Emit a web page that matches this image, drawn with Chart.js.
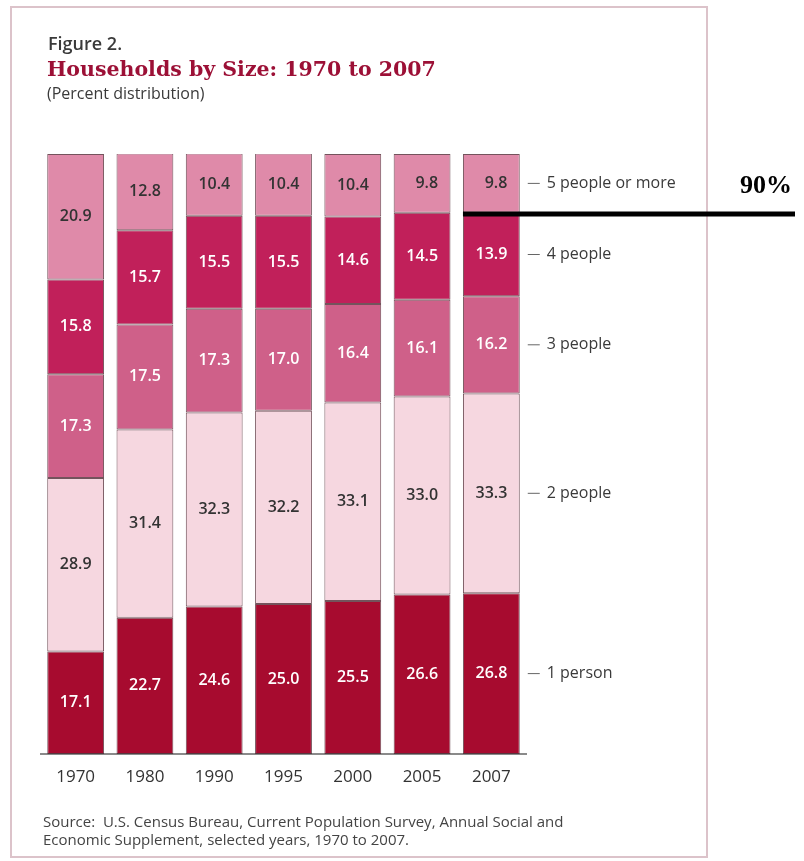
<!DOCTYPE html>
<html>
<head>
<meta charset="utf-8">
<script src="https://cdn.jsdelivr.net/npm/chart.js@4.4.1/dist/chart.umd.min.js"></script>
<style>
  body { margin: 0; background: #fff; }
  #wrap { position: relative; width: 804px; height: 861px; overflow: hidden; }
  #frame { position: absolute; left: 10px; top: 6px; width: 698px; height: 852px; border: 2px solid #dcc3ca; box-sizing: border-box; }
  canvas { position: absolute; left: 0; top: 0; }
  .txt { position: absolute; font-family: "Open Sans", sans-serif; color: #333; white-space: nowrap; line-height: 1; }
  #fig { left: 48px; top: 34px; font-size: 18px; font-weight: 600; color: #3a3a3a; }
  #title { left: 47px; top: 59px; font-family: "DejaVu Serif", serif; font-weight: bold; font-size: 20.5px; color: #9c1036; }
  #sub { left: 47px; top: 85px; font-size: 16px; color: #3a3a3a; }
  #source { left: 43px; top: 812px; font-size: 15px; line-height: 18px; color: #444; }
  #mark { left: 740px; top: 170px; font-family: "Liberation Serif", serif; font-weight: bold; font-size: 26px; color: #000; line-height: normal; }
</style>
</head>
<body>
<div id="wrap">
  <div id="frame"></div>
  <canvas id="chart" width="804" height="861"></canvas>
  <div class="txt" id="fig">Figure 2.</div>
  <div class="txt" id="title">Households by Size: 1970 to 2007</div>
  <div class="txt" id="sub">(Percent distribution)</div>
  <div class="txt" id="source">Source:&nbsp; U.S. Census Bureau, Current Population Survey, Annual Social and<br>Economic Supplement, selected years, 1970 to 2007.</div>
  <div class="txt" id="mark">90%</div>
</div>
<script>
const years = ['1970', '1980', '1990', '1995', '2000', '2005', '2007'];
const onePerson = [17.1, 22.7, 24.6, 25.0, 25.5, 26.6, 26.8];
const twoPeople = [28.9, 31.4, 32.3, 32.2, 33.1, 33.0, 33.3];
const threePeople = [17.3, 17.5, 17.3, 17.0, 16.4, 16.1, 16.2];
const fourPeople = [15.8, 15.7, 15.5, 15.5, 14.6, 14.5, 13.9];
const fivePlus = [20.9, 12.8, 10.4, 10.4, 10.4, 9.8, 9.8];
const seriesNames = ['1 person', '2 people', '3 people', '4 people', '5 people or more'];
const markerValue = 90;

const fills = ['#a70b2f', '#f6d7e0', '#cf6089', '#c1205a', '#df8aa9'];
const labelColors = ['#fff', '#333', '#fff', '#fff', '#333'];

// numbers inside each segment, right-aligned so the decimals line up
const valueLabels = {
  id: 'valueLabels',
  afterDatasetsDraw(chart) {
    const ctx = chart.ctx;
    ctx.save();
    ctx.font = '600 16px "Open Sans", sans-serif';
    ctx.textAlign = 'right';
    ctx.textBaseline = 'middle';
    chart.data.datasets.forEach(function(ds, i) {
      const meta = chart.getDatasetMeta(i);
      ctx.fillStyle = labelColors[i];
      meta.data.forEach(function(bar, j) {
        ctx.fillText(ds.data[j].toFixed(1), bar.x + 16, (bar.y + bar.base) / 2);
      });
    });
    ctx.restore();
  }
};

// series names beside the last bar, plus the 90% marker line
const sideLabels = {
  id: 'sideLabels',
  afterDraw(chart) {
    const ctx = chart.ctx;
    ctx.save();
    ctx.font = '16px "Open Sans", sans-serif';
    ctx.textBaseline = 'middle';
    ctx.fillStyle = '#3a3a3a';
    ctx.strokeStyle = '#666';
    ctx.lineWidth = 1;
    chart.data.datasets.forEach(function(ds, i) {
      const bar = chart.getDatasetMeta(i).data[years.length - 1];
      const right = bar.x + bar.width / 2;
      const y = (bar.y + bar.base) / 2;
      ctx.beginPath();
      ctx.moveTo(right + 8, y);
      ctx.lineTo(right + 20, y);
      ctx.stroke();
      ctx.fillText(ds.label, right + 27, y);
    });
    const last = chart.getDatasetMeta(0).data[years.length - 1];
    const my = chart.scales.y.getPixelForValue(markerValue);
    ctx.strokeStyle = '#000';
    ctx.lineWidth = 5;
    ctx.beginPath();
    ctx.moveTo(last.x - last.width / 2, my);
    ctx.lineTo(795, my);
    ctx.stroke();
    ctx.restore();
  }
};

const series = [onePerson, twoPeople, threePeople, fourPeople, fivePlus];

new Chart(document.getElementById('chart'), {
  type: 'bar',
  data: {
    labels: years,
    datasets: series.map(function(vals, i) {
      return {
        label: seriesNames[i],
        data: vals,
        backgroundColor: fills[i],
        borderColor: 'rgba(70,25,38,0.75)',
        borderWidth: 1,
        borderSkipped: false,
        barPercentage: 0.82,
        categoryPercentage: 1
      };
    })
  },
  options: {
    responsive: false,
    animation: false,
    layout: { padding: { left: 41, right: 278, top: 154, bottom: 77 } },
    plugins: { legend: { display: false }, tooltip: { enabled: false } },
    scales: {
      x: {
        stacked: true,
        grid: { display: false, drawTicks: false },
        border: { display: true, color: '#8a8a8a', width: 2 },
        ticks: { color: '#333', padding: 13, font: { family: 'Open Sans', size: 17 } },
        afterFit(scale) { scale.height = 30; }
      },
      y: {
        stacked: true,
        display: false,
        min: 0,
        max: 100
      }
    }
  },
  plugins: [valueLabels, sideLabels]
});
</script>
</body>
</html>
